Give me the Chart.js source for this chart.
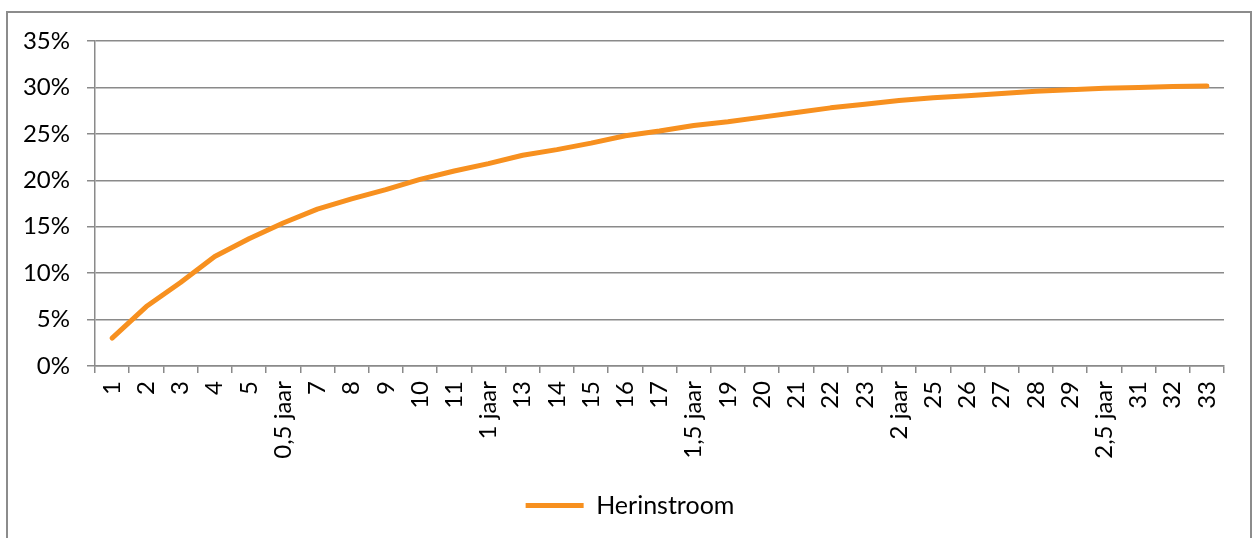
<!DOCTYPE html>
<html>
<head>
<meta charset="utf-8">
<script src="https://cdn.jsdelivr.net/npm/chart.js@4"></script>
<style>
  html, body { margin: 0; padding: 0; background: #fff; }
  #wrap { position: relative; width: 1257px; height: 538px; }
  #frame {
    position: absolute; left: 6px; top: 11px; width: 1246px; height: 540px;
    border: 2px solid #8c8c8c; pointer-events: none; box-sizing: border-box;
  }
</style>
</head>
<body>
<div id="wrap">
  <canvas id="herinstroomChart" width="1257" height="538"></canvas>
  <div id="frame"></div>
</div>
<script>
  // categorieën (maanden), met halfjaar-markeringen
  const maanden = ['1', '2', '3', '4', '5', '0,5 jaar', '7', '8', '9', '10', '11', '1 jaar',
    '13', '14', '15', '16', '17', '1,5 jaar', '19', '20', '21', '22', '23', '2 jaar',
    '25', '26', '27', '28', '29', '2,5 jaar', '31', '32', '33'];

  // cumulatieve herinstroom in %
  const herinstroom = [3.0, 6.4, 9.0, 11.8, 13.7, 15.4, 16.9, 18.0, 19.0, 20.1, 21.0, 21.8,
    22.7, 23.3, 24.0, 24.8, 25.3, 25.9, 26.3, 26.8, 27.3, 27.8, 28.2, 28.6,
    28.9, 29.1, 29.35, 29.6, 29.75, 29.9, 30.0, 30.1, 30.15];

  const yTicks = [0, 5, 10, 15, 20, 25, 30, 35];

  const gridKleur = '#8a8a8a';
  const tickFont = { family: 'Lato', size: 24 };
  const legendFont = { family: 'Lato', size: 25 };

  // legenda iets naar rechts, zoals in Excel
  const legendShift = {
    id: 'legendShift',
    afterLayout(chart) {
      chart.legend.left += 18;
      chart.legend.right += 18;
    }
  };

  const ctx = document.getElementById('herinstroomChart').getContext('2d');
  const chart = new Chart(ctx, {
    type: 'line',
    data: {
      labels: maanden,
      datasets: [{
        label: 'Herinstroom',
        data: herinstroom,
        borderColor: '#F7901F',
        backgroundColor: '#F7901F',
        borderWidth: 5,
        borderCapStyle: 'round',
        borderJoinStyle: 'round',
        pointRadius: 0,
        tension: 0,
        fill: false
      }]
    },
    options: {
      responsive: false,
      animation: false,
      layout: {
        padding: { left: 0, right: 33, top: 41, bottom: 10 }
      },
      scales: {
        x: {
          type: 'category',
          offset: true,
          grid: {
            offset: true,
            drawOnChartArea: false,
            drawTicks: true,
            tickLength: 7,
            color: gridKleur,
            lineWidth: 1.5
          },
          border: { display: true, color: gridKleur, width: 1.5 },
          ticks: {
            color: '#000',
            font: tickFont,
            minRotation: 90,
            maxRotation: 90,
            autoSkip: false,
            padding: 8
          },
          afterFit: function(scale) { scale.height = 117; }
        },
        y: {
          min: 0,
          max: 35,
          afterBuildTicks: function(scale) {
            scale.ticks = yTicks.map(v => ({ value: v }));
          },
          grid: {
            color: gridKleur,
            lineWidth: 1.5,
            tickLength: 8
          },
          border: { display: true, color: gridKleur, width: 1.5 },
          ticks: {
            color: '#000',
            font: tickFont,
            padding: 17,
            callback: v => v + '%'
          },
          afterFit: function(scale) { scale.width = 95; }
        }
      },
      plugins: {
        legend: {
          position: 'bottom',
          labels: {
            color: '#000',
            font: legendFont,
            usePointStyle: true,
            pointStyle: 'line',
            pointStyleWidth: 58,
            padding: 10
          }
        },
        tooltip: { enabled: false }
      }
    },
    plugins: [legendShift]
  });
</script>
</body>
</html>
